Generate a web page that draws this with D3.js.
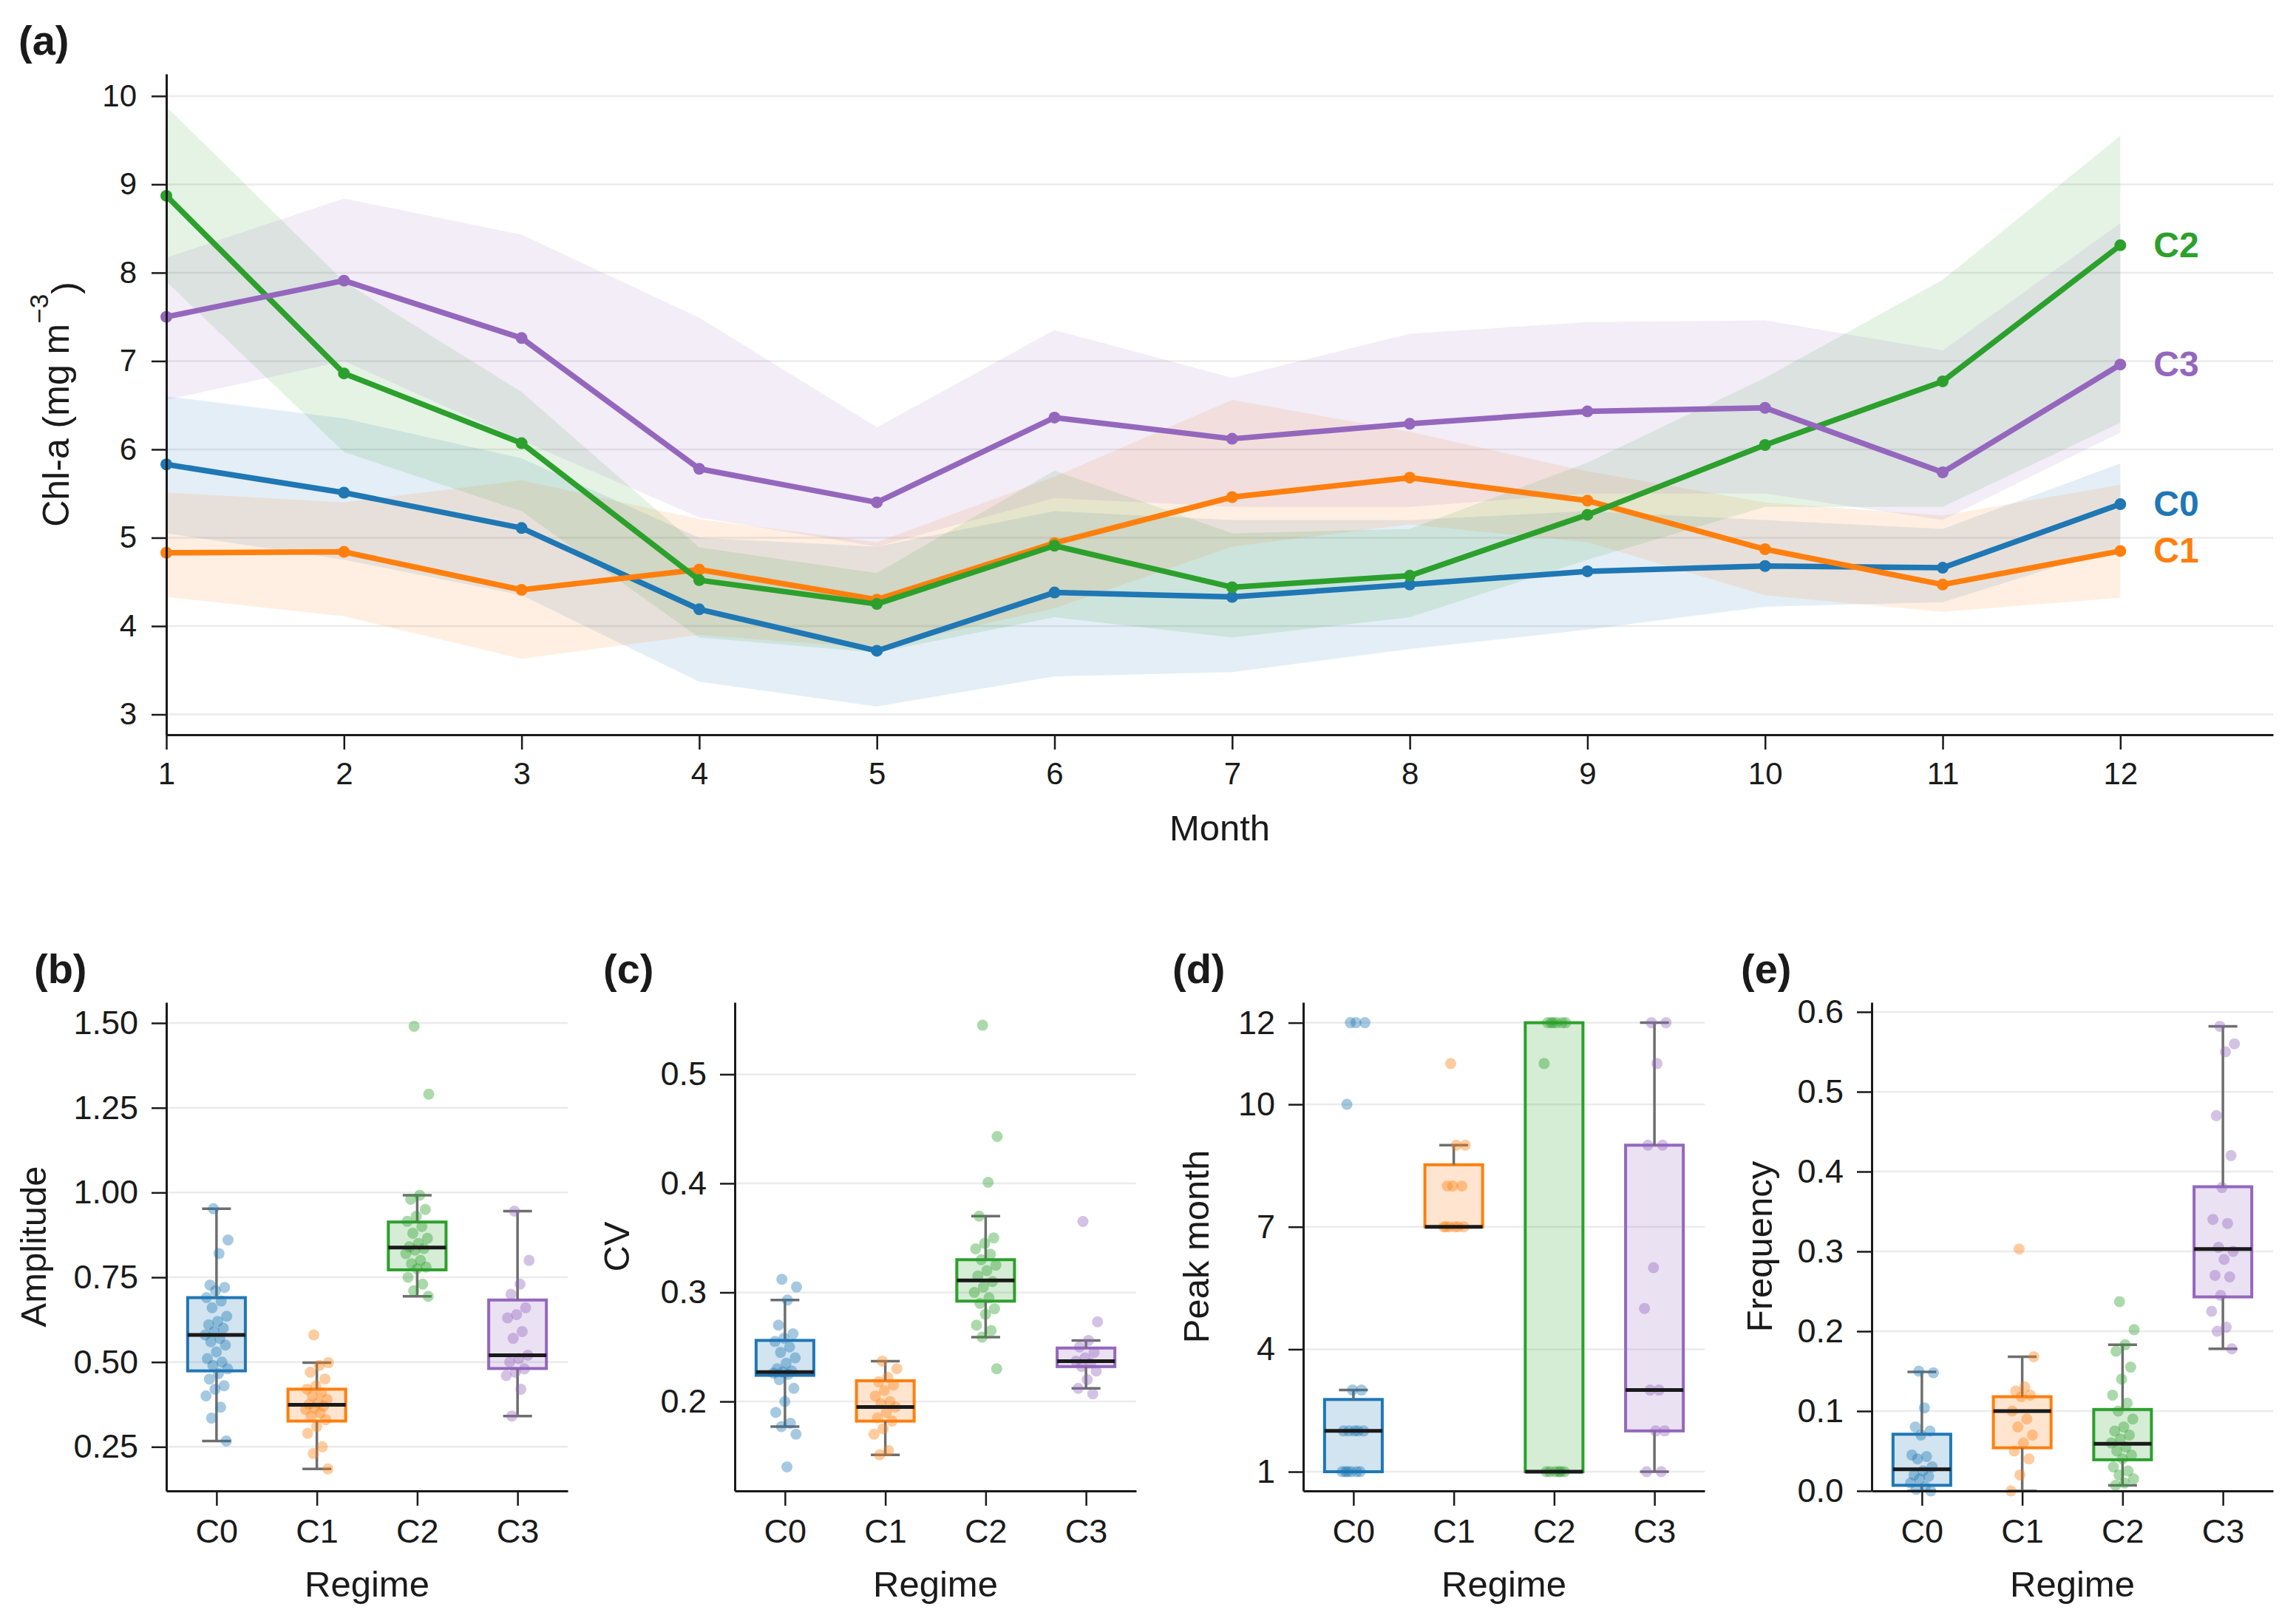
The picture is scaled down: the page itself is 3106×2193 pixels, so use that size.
<!DOCTYPE html>
<html>
<head>
<meta charset="utf-8">
<script src="https://cdn.jsdelivr.net/npm/d3@7"></script>
<style>
  body { margin: 0; background: #fff; }
  text { font-family: "Liberation Sans", Arial, Helvetica, sans-serif; }
</style>
</head>
<body>
<svg id="chart" width="3106" height="2193"></svg>
<script>
// ---- panel (a): monthly Chl-a climatology per regime ----
const months = [1, 2, 3, 4, 5, 6, 7, 8, 9, 10, 11, 12]
const regimes = ["C0", "C1", "C2", "C3"]
const colors = ["#1f77b4", "#ff7f0e", "#2ca02c", "#9467bd"]

const meanC0 = [5.83, 5.51, 5.11, 4.19, 3.72, 4.38, 4.33, 4.47, 4.62, 4.68, 4.66, 5.38]
const lowC0  = [5.05, 4.75, 4.35, 3.37, 3.09, 3.43, 3.48, 3.74, 3.96, 4.22, 4.27, 4.90]
const highC0 = [6.60, 6.35, 5.90, 5.00, 4.90, 5.30, 5.20, 5.20, 5.30, 5.20, 5.10, 5.84]

const meanC1 = [4.83, 4.84, 4.41, 4.64, 4.30, 4.94, 5.46, 5.68, 5.42, 4.87, 4.47, 4.85]
const lowC1  = [4.33, 4.11, 3.63, 3.90, 3.75, 4.20, 4.90, 5.15, 4.95, 4.35, 4.16, 4.32]
const highC1 = [5.51, 5.40, 5.65, 5.21, 4.95, 5.69, 6.56, 6.20, 5.75, 5.40, 5.25, 5.60]

const meanC2 = [8.87, 6.86, 6.07, 4.52, 4.25, 4.91, 4.44, 4.57, 5.26, 6.05, 6.77, 8.31]
const lowC2  = [7.90, 5.97, 5.30, 3.87, 3.70, 4.10, 3.87, 4.10, 4.75, 5.35, 5.35, 6.30]
const highC2 = [9.88, 7.90, 6.65, 4.89, 4.60, 5.76, 5.05, 5.10, 5.85, 6.81, 7.92, 9.55]

const meanC3 = [7.50, 7.91, 7.26, 5.78, 5.40, 6.36, 6.12, 6.29, 6.43, 6.47, 5.74, 6.96]
const lowC3  = [6.56, 7.00, 6.10, 5.23, 4.90, 5.45, 5.35, 5.35, 5.50, 5.50, 5.20, 6.19]
const highC3 = [8.17, 8.84, 8.43, 7.49, 6.25, 7.35, 6.81, 7.31, 7.44, 7.46, 7.12, 8.56]

const chlTicks = [3, 4, 5, 6, 7, 8, 9, 10]

// ---- panels (b)-(e): per-site metrics by regime ----
// box stats: [lower whisker, q1, median, q3, upper whisker]
const ampC0 = [0.952, 0.86, 0.82, 0.727, 0.72, 0.71, 0.69, 0.68, 0.66, 0.635, 0.62, 0.61, 0.60, 0.59, 0.58, 0.57, 0.56, 0.55, 0.53, 0.51, 0.50, 0.49, 0.48, 0.466, 0.45, 0.43, 0.42, 0.40, 0.367, 0.335, 0.267]
const ampC1 = [0.58, 0.498, 0.49, 0.47, 0.45, 0.43, 0.42, 0.41, 0.40, 0.39, 0.38, 0.375, 0.37, 0.365, 0.36, 0.35, 0.34, 0.33, 0.31, 0.29, 0.25, 0.23, 0.185]
const ampC2 = [1.49, 1.29, 0.992, 0.98, 0.95, 0.93, 0.915, 0.90, 0.88, 0.865, 0.85, 0.84, 0.835, 0.83, 0.82, 0.80, 0.79, 0.78, 0.775, 0.75, 0.73, 0.71, 0.694]
const ampC3 = [0.945, 0.80, 0.73, 0.70, 0.66, 0.64, 0.63, 0.59, 0.57, 0.52, 0.51, 0.50, 0.48, 0.47, 0.46, 0.42, 0.341]
const ampBox = [[0.267, 0.474, 0.580, 0.690, 0.952], [0.185, 0.326, 0.374, 0.420, 0.498], [0.694, 0.772, 0.838, 0.913, 0.992], [0.341, 0.481, 0.520, 0.683, 0.945]]
const ampTicks = [0.25, 0.5, 0.75, 1.0, 1.25, 1.5]

const cvC0 = [0.312, 0.305, 0.293, 0.27, 0.262, 0.258, 0.255, 0.25, 0.245, 0.24, 0.235, 0.23, 0.228, 0.227, 0.226, 0.225, 0.22, 0.212, 0.20, 0.19, 0.18, 0.177, 0.17, 0.14]
const cvC1 = [0.237, 0.23, 0.222, 0.218, 0.215, 0.21, 0.205, 0.20, 0.198, 0.195, 0.19, 0.185, 0.182, 0.175, 0.17, 0.155, 0.151]
const cvC2 = [0.545, 0.443, 0.401, 0.37, 0.35, 0.345, 0.34, 0.335, 0.33, 0.325, 0.32, 0.315, 0.31, 0.305, 0.30, 0.295, 0.29, 0.285, 0.28, 0.27, 0.265, 0.259, 0.23]
const cvC3 = [0.365, 0.273, 0.256, 0.25, 0.245, 0.24, 0.237, 0.235, 0.232, 0.228, 0.22, 0.212, 0.207]
const cvBox = [[0.177, 0.224, 0.227, 0.256, 0.293], [0.151, 0.182, 0.195, 0.219, 0.237], [0.259, 0.292, 0.311, 0.330, 0.370], [0.212, 0.232, 0.237, 0.249, 0.256]]
const cvTicks = [0.2, 0.3, 0.4, 0.5]

const peakC0 = [12, 12, 12, 10, 3, 3, 2, 2, 2, 2, 2, 1, 1, 1, 1, 1, 1]
const peakC1 = [11, 9, 9, 8, 8, 8, 7, 7, 7, 7, 7, 7]
const peakC2 = [12, 12, 12, 12, 12, 12, 11, 1, 1, 1, 1, 1, 1]
const peakC3 = [12, 12, 11, 9, 9, 6, 5, 3, 3, 2, 2, 1, 1]
const peakBox = [[1, 1, 2, 2.77, 3], [7, 7, 7, 8.52, 9], [1, 1, 1, 12, 12], [1, 2, 3, 9, 12]]
const peakTicks = [1, 4, 7, 10, 12]

const freqC0 = [0.15, 0.148, 0.104, 0.08, 0.075, 0.07, 0.045, 0.043, 0.04, 0.03, 0.025, 0.02, 0.018, 0.015, 0.01, 0.005, 0.002, 0]
const freqC1 = [0.303, 0.168, 0.13, 0.125, 0.12, 0.118, 0.10, 0.09, 0.08, 0.07, 0.06, 0.05, 0.04, 0.02, 0.0]
const freqC2 = [0.237, 0.202, 0.183, 0.175, 0.155, 0.14, 0.12, 0.11, 0.10, 0.09, 0.08, 0.075, 0.07, 0.065, 0.06, 0.055, 0.05, 0.045, 0.04, 0.03, 0.025, 0.02, 0.015, 0.01, 0.007]
const freqC3 = [0.582, 0.56, 0.55, 0.47, 0.42, 0.38, 0.34, 0.335, 0.305, 0.30, 0.29, 0.27, 0.268, 0.245, 0.225, 0.205, 0.20, 0.178]
const freqBox = [[0.0, 0.007, 0.027, 0.071, 0.149], [0.0, 0.054, 0.100, 0.118, 0.168], [0.007, 0.039, 0.059, 0.102, 0.183], [0.178, 0.243, 0.303, 0.381, 0.582]]
const freqTicks = [0, 0.1, 0.2, 0.3, 0.4, 0.5, 0.6]

const INK = "#1a1a1a"
const GRID = "#ebebeb"
const svg = d3.select("#chart")

function styleAxis(g, size) {
    g.select(".domain").attr("stroke", INK).attr("stroke-width", 3)
    g.selectAll(".tick line").attr("stroke", INK).attr("stroke-width", 2.5)
    g.selectAll(".tick text").attr("font-size", size).attr("fill", INK)
        .attr("font-family", '"Liberation Sans", Arial, sans-serif')
}

function panelLabel(txt, x, y) {
    svg.append("text").attr("x", x).attr("y", y).attr("font-size", 56)
        .attr("font-weight", "bold").attr("fill", INK).text(txt)
}

// ================= panel (a) =================
{
    const left = 225, right = 3075, top = 100, bottom = 994
    const x = d3.scaleLinear().domain([1, 12.86]).range([left, right])
    const y = d3.scaleLinear().domain([2.77, 10.25]).range([bottom, top])

    const g = svg.append("g")
    g.append("g").selectAll("line").data(chlTicks).join("line")
        .attr("x1", left).attr("x2", right)
        .attr("y1", d => y(d)).attr("y2", d => y(d))
        .attr("stroke", GRID).attr("stroke-width", 2.5)

    const series = [
        {mean: meanC0, low: lowC0, high: highC0},
        {mean: meanC1, low: lowC1, high: highC1},
        {mean: meanC2, low: lowC2, high: highC2},
        {mean: meanC3, low: lowC3, high: highC3}
    ]

    const area = d3.area().x((d, i) => x(months[i])).y0(d => y(d[0])).y1(d => y(d[1]))
    const line = d3.line().x((d, i) => x(months[i])).y(d => y(d))

    series.forEach((s, k) => {
        g.append("path").datum(s.low.map((v, i) => [v, s.high[i]]))
            .attr("d", area).attr("fill", colors[k]).attr("fill-opacity", 0.12)
    })
    series.forEach((s, k) => {
        g.append("path").datum(s.mean).attr("d", line).attr("fill", "none")
            .attr("stroke", colors[k]).attr("stroke-width", 7.5).attr("stroke-linejoin", "round")
        g.append("g").selectAll("circle").data(s.mean).join("circle")
            .attr("cx", (d, i) => x(months[i])).attr("cy", d => y(d)).attr("r", 8)
            .attr("fill", colors[k])
        g.append("text").attr("x", x(12) + 45).attr("y", y(s.mean[11]))
            .attr("dy", "0.33em").attr("font-size", 48).attr("font-weight", "bold")
            .attr("fill", colors[k]).text(regimes[k])
    })

    const xAxis = g.append("g").attr("transform", `translate(0,${bottom})`)
        .call(d3.axisBottom(x).tickValues(months).tickFormat(d3.format("d")).tickSize(20).tickSizeOuter(0).tickPadding(17))
    styleAxis(xAxis, 42)
    const yAxis = g.append("g").attr("transform", `translate(${left},0)`)
        .call(d3.axisLeft(y).tickValues(chlTicks).tickFormat(d3.format("d")).tickSize(20).tickSizeOuter(0).tickPadding(20))
    styleAxis(yAxis, 42)

    g.append("text").attr("x", (left + right) / 2).attr("y", 1137).attr("text-anchor", "middle")
        .attr("font-size", 49).attr("fill", INK).text("Month")
    const yl = g.append("text").attr("transform", `translate(${left - 150},${(top + bottom) / 2}) rotate(-90)`)
        .attr("text-anchor", "middle").attr("dy", "0.35em").attr("font-size", 50).attr("fill", INK)
    yl.append("tspan").text("Chl-a (mg m")
    yl.append("tspan").attr("dy", "-0.8em").attr("font-size", 35).text("\u22123")
    yl.append("tspan").attr("dy", "0.8em").text(")")

    panelLabel("(a)", 25, 74)
}

// ================= panels (b)-(e) =================
function jitter(i) {
    // deterministic spread of strip points around the category centre
    return ((i * 0.618034 + 0.37) % 1 - 0.5) * 2
}

function boxPanel(opt) {
    const top = 1356, bottom = 2017
    const left = opt.left, right = opt.left + 543
    const x = d3.scalePoint().domain(regimes).range([left, right]).padding(0.5)
    const y = d3.scaleLinear().domain(opt.domain).range([bottom, top])
    const bw = x.step() * 0.575
    const g = svg.append("g")

    g.append("g").selectAll("line").data(opt.ticks).join("line")
        .attr("x1", left).attr("x2", right)
        .attr("y1", d => y(d)).attr("y2", d => y(d))
        .attr("stroke", GRID).attr("stroke-width", 2.5)

    regimes.forEach((r, k) => {
        const [wlo, q1, med, q3, whi] = opt.box[k]
        const cx = x(r)
        const bg = g.append("g")
        bg.append("rect").attr("x", cx - bw / 2).attr("width", bw)
            .attr("y", y(q3)).attr("height", y(q1) - y(q3))
            .attr("fill", colors[k]).attr("fill-opacity", 0.2)
            .attr("stroke", colors[k]).attr("stroke-width", 4)
        const whiskers = [[q3, whi], [q1, wlo]].filter(w => w[0] !== w[1])
        whiskers.forEach(w => {
            bg.append("line").attr("x1", cx).attr("x2", cx).attr("y1", y(w[0])).attr("y2", y(w[1]))
                .attr("stroke", "#6e6e6e").attr("stroke-width", 3.5)
            bg.append("line").attr("x1", cx - bw / 4).attr("x2", cx + bw / 4)
                .attr("y1", y(w[1])).attr("y2", y(w[1]))
                .attr("stroke", "#6e6e6e").attr("stroke-width", 3.5)
        })
        bg.append("g").selectAll("circle").data(opt.points[k]).join("circle")
            .attr("cx", (d, i) => cx + jitter(i) * 16).attr("cy", d => y(d)).attr("r", 7.5)
            .attr("fill", colors[k]).attr("fill-opacity", 0.4)
        bg.append("line").attr("x1", cx - bw / 2).attr("x2", cx + bw / 2)
            .attr("y1", y(med)).attr("y2", y(med)).attr("stroke", INK).attr("stroke-width", 5)
    })

    const xAxis = g.append("g").attr("transform", `translate(0,${bottom})`)
        .call(d3.axisBottom(x).tickSize(20).tickSizeOuter(0).tickPadding(18))
    styleAxis(xAxis, 45)
    const yAxis = g.append("g").attr("transform", `translate(${left},0)`)
        .call(d3.axisLeft(y).tickValues(opt.ticks).tickFormat(opt.fmt).tickSize(20).tickSizeOuter(0).tickPadding(18))
    styleAxis(yAxis, 45)

    g.append("text").attr("x", (left + right) / 2).attr("y", 2160).attr("text-anchor", "middle")
        .attr("font-size", 49).attr("fill", INK).text("Regime")
    g.append("text").attr("transform", `translate(${left - opt.labelOff},${(top + bottom) / 2}) rotate(-90)`)
        .attr("text-anchor", "middle").attr("dy", "0.35em").attr("font-size", 49).attr("fill", INK)
        .text(opt.label)
    panelLabel(opt.tag, opt.tagX, 1330)
}

boxPanel({left: 225, domain: [0.12, 1.561], ticks: ampTicks, fmt: d3.format(".2f"),
    box: ampBox, points: [ampC0, ampC1, ampC2, ampC3], label: "Amplitude", labelOff: 180, tag: "(b)", tagX: 46})
boxPanel({left: 994, domain: [0.118, 0.566], ticks: cvTicks, fmt: d3.format(".1f"),
    box: cvBox, points: [cvC0, cvC1, cvC2, cvC3], label: "CV", labelOff: 160, tag: "(c)", tagX: 816})
boxPanel({left: 1763, domain: [0.53, 12.5], ticks: peakTicks, fmt: d3.format("d"),
    box: peakBox, points: [peakC0, peakC1, peakC2, peakC3], label: "Peak month", labelOff: 145, tag: "(d)", tagX: 1586})
boxPanel({left: 2532, domain: [0, 0.612], ticks: freqTicks, fmt: d3.format(".1f"),
    box: freqBox, points: [freqC0, freqC1, freqC2, freqC3], label: "Frequency", labelOff: 152, tag: "(e)", tagX: 2355})
</script>
</body>
</html>
